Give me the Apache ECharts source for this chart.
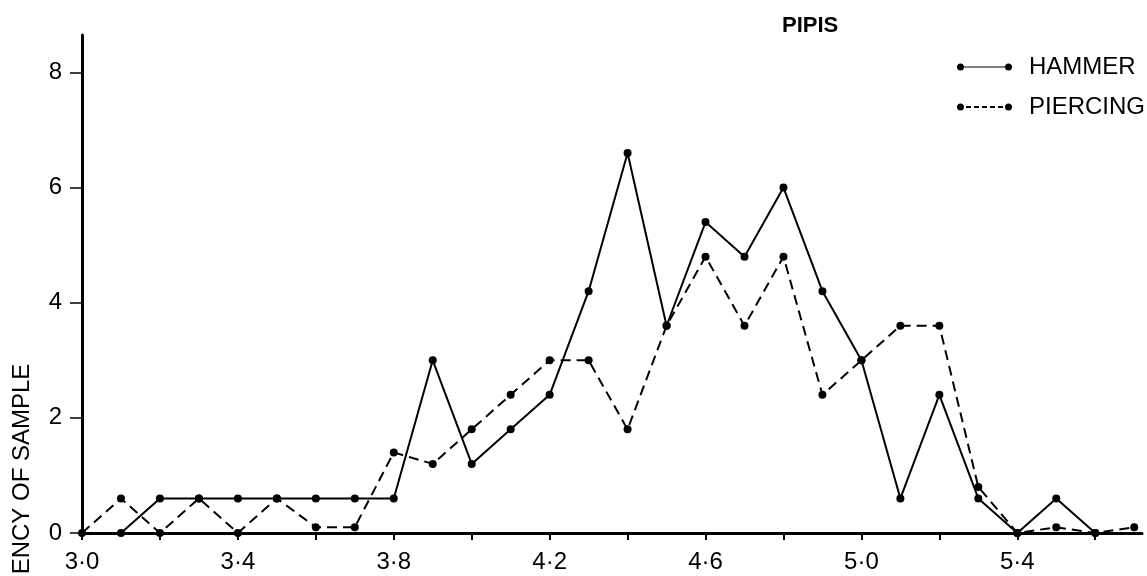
<!DOCTYPE html>
<html>
<head>
<meta charset="utf-8">
<title>PIPIS</title>
<script src="https://cdn.jsdelivr.net/npm/echarts@6/dist/echarts.min.js"></script>
<style>
  html, body { margin: 0; padding: 0; background: #fff; }
  #chart { width: 1147px; height: 576px; }
</style>
</head>
<body>
<div id="chart"></div>
<script>
// size classes (x) and frequency
const sizes = [3.0, 3.1, 3.2, 3.3, 3.4, 3.5, 3.6, 3.7, 3.8, 3.9, 4.0, 4.1, 4.2, 4.3,
               4.4, 4.5, 4.6, 4.7, 4.8, 4.9, 5.0, 5.1, 5.2, 5.3, 5.4, 5.5, 5.6, 5.7];
const hammer = [null, 0, 0.6, 0.6, 0.6, 0.6, 0.6, 0.6, 0.6, 3.0, 1.2, 1.8, 2.4, 4.2,
                6.6, 3.6, 5.4, 4.8, 6.0, 4.2, 3.0, 0.6, 2.4, 0.6, 0, 0.6, 0, null];
const piercing = [0, 0.6, 0, 0.6, 0, 0.6, 0.1, 0.1, 1.4, 1.2, 1.8, 2.4, 3.0, 3.0,
                  1.8, 3.6, 4.8, 3.6, 4.8, 2.4, 3.0, 3.6, 3.6, 0.8, 0, 0.1, 0, 0.1];
const xTicks = [3.0, 3.2, 3.4, 3.6, 3.8, 4.0, 4.2, 4.4, 4.6, 4.8, 5.0, 5.2, 5.4, 5.6];
const xLabels = [3.0, 3.4, 3.8, 4.2, 4.6, 5.0, 5.4];
const yTicks = [0, 2, 4, 6, 8];

const font = 'Liberation Sans';
const toPairs = arr => sizes.map((x, i) => [x, arr[i] == null ? '-' : arr[i]]);

// legend icons: dot, line, dot
const solidIcon = 'path://M0,3.5A3.5,3.5,0,1,0,7,3.5A3.5,3.5,0,1,0,0,3.5Z M7,2.9H48V4.1H7Z M48,3.5A3.5,3.5,0,1,0,55,3.5A3.5,3.5,0,1,0,48,3.5Z';
const dashIcon = 'path://M0,3.5A3.5,3.5,0,1,0,7,3.5A3.5,3.5,0,1,0,0,3.5Z M9,2.5H14V4.5H9Z M17,2.5H22V4.5H17Z M25,2.5H30V4.5H25Z M33,2.5H38V4.5H33Z M41,2.5H46V4.5H41Z M48,3.5A3.5,3.5,0,1,0,55,3.5A3.5,3.5,0,1,0,48,3.5Z';

let chart = echarts.init(document.getElementById('chart'));
chart.setOption({
  animation: false,
  backgroundColor: '#fff',
  title: {
    text: 'PIPIS',
    left: 782,
    top: 15,
    padding: 0,
    textStyle: { fontFamily: font, fontSize: 22, fontWeight: 'bold', color: '#000' }
  },
  legend: {
    orient: 'vertical',
    left: 957,
    top: 55,
    padding: 0,
    itemGap: 16,
    itemWidth: 55,
    itemHeight: 7,
    symbolKeepAspect: false,
    itemStyle: { borderWidth: 0 },
    textStyle: { fontFamily: font, fontSize: 24, color: '#000', padding: [0, 0, 0, 12] },
    data: [
      { name: 'HAMMER', icon: solidIcon },
      { name: 'PIERCING', icon: dashIcon }
    ]
  },
  grid: { left: 82, right: 5, top: 35, bottom: 43 },
  xAxis: {
    type: 'value',
    min: 3.0,
    max: 5.72,
    axisLine: { lineStyle: { color: '#000', width: 3 } },
    axisTick: { customValues: xTicks, length: 7, lineStyle: { color: '#000', width: 2 } },
    axisLabel: {
      customValues: xLabels,
      margin: 17,
      fontFamily: font,
      fontSize: 24,
      color: '#000',
      formatter: v => v.toFixed(1).replace('.', '·')
    },
    splitLine: { show: false }
  },
  yAxis: {
    type: 'value',
    min: 0,
    max: 8.65,
    axisLine: { show: true, lineStyle: { color: '#000', width: 3 } },
    axisTick: { show: true, customValues: yTicks, length: 12, lineStyle: { color: '#000', width: 1.5 } },
    axisLabel: {
      customValues: yTicks,
      margin: 20,
      fontFamily: font,
      fontSize: 24,
      color: '#000'
    },
    splitLine: { show: false }
  },
  graphic: [{
    type: 'text',
    x: 22,
    y: 511,
    rotation: Math.PI / 2,
    style: {
      text: 'FREQUENCY OF SAMPLE',
      fontFamily: font,
      fontSize: 24,
      fill: '#000',
      align: 'center',
      verticalAlign: 'middle'
    }
  }],
  series: [
    {
      name: 'HAMMER',
      type: 'line',
      data: toPairs(hammer),
      symbol: 'circle',
      symbolSize: 8,
      itemStyle: { color: '#000' },
      lineStyle: { color: '#000', width: 2 }
    },
    {
      name: 'PIERCING',
      type: 'line',
      data: toPairs(piercing),
      symbol: 'circle',
      symbolSize: 8,
      itemStyle: { color: '#000' },
      lineStyle: { color: '#000', width: 2, type: [10, 6] }
    }
  ]
});
</script>
</body>
</html>
